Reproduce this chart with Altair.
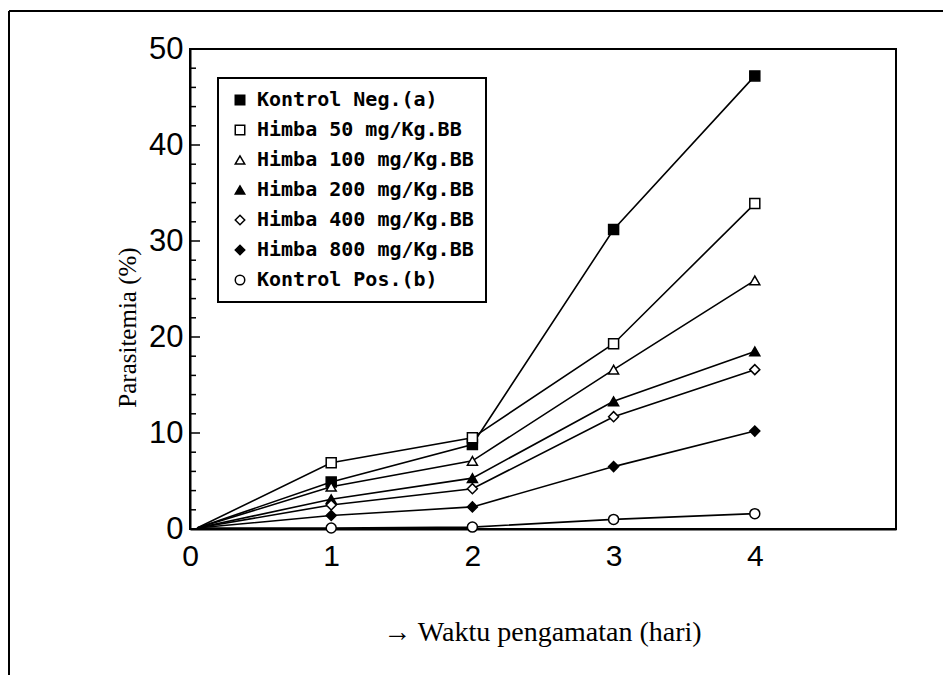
import altair as alt
import pandas as pd

# ---- data ----
days = [0.05, 1, 2, 3, 4]
series_names = [
    "Kontrol Neg.(a)",
    "Himba 50 mg/Kg.BB",
    "Himba 100 mg/Kg.BB",
    "Himba 200 mg/Kg.BB",
    "Himba 400 mg/Kg.BB",
    "Himba 800 mg/Kg.BB",
    "Kontrol Pos.(b)",
]
kontrol_neg = [0.1, 4.9, 8.8, 31.2, 47.2]
himba_50 = [0.1, 6.9, 9.5, 19.3, 33.9]
himba_100 = [0.1, 4.4, 7.1, 16.6, 25.9]
himba_200 = [0.1, 3.1, 5.3, 13.3, 18.5]
himba_400 = [0.1, 2.5, 4.2, 11.7, 16.6]
himba_800 = [0.1, 1.4, 2.3, 6.5, 10.2]
kontrol_pos = [0.1, 0.1, 0.2, 1.0, 1.6]

shapes = ["square", "square", "triangle-up", "triangle-up", "diamond", "diamond", "circle"]
fills = ["black", "white", "white", "black", "white", "black", "white"]
strokes = ["black"] * 7

x_ticks = [0, 1, 2, 3, 4]
y_ticks = [0, 10, 20, 30, 40, 50]
y_minor = [v for v in range(0, 51, 2) if v % 10 != 0]

all_series = [kontrol_neg, himba_50, himba_100, himba_200, himba_400, himba_800, kontrol_pos]
rows = []
for name, vals in zip(series_names, all_series):
    for d, v in zip(days, vals):
        rows.append({"day": d, "val": v, "series": name})
df = pd.DataFrame(rows)

W, H = 706, 480
PL, PT, PR, PB = 182, 41, 47, 146

xscale = alt.Scale(domain=[0, 5], nice=False)
yscale = alt.Scale(domain=[0, 50], nice=False)

x_enc = alt.X(
    "day:Q",
    scale=xscale,
    axis=alt.Axis(
        values=x_ticks,
        format="d",
        ticks=False,
        tickSize=0,
        labelFlush=False,
        labelPadding=12,
        labelFontSize=30,
        labelFont="Liberation Sans",
        labelColor="black",
        domainColor="black",
        domainWidth=2,
        grid=False,
        title="\u2192 Waktu pengamatan (hari)",
        titleFont="Liberation Serif",
        titleFontSize=28,
        titleFontWeight="normal",
        titleColor="black",
        titleX=352,
        titleY=103,
        titleBaseline="middle",
        titleAnchor="middle",
    ),
)
y_enc = alt.Y(
    "val:Q",
    scale=yscale,
    axis=alt.Axis(
        values=y_ticks,
        format="d",
        ticks=False,
        tickSize=0,
        labelFlush=False,
        labelPadding=7,
        labelFontSize=31,
        labelFont="Liberation Sans",
        labelColor="black",
        domainColor="black",
        domainWidth=2,
        grid=False,
        title="Parasitemia (%)",
        titleFont="Liberation Serif",
        titleFontSize=25,
        titleFontWeight="normal",
        titleColor="black",
        titleX=-63,
        titleY=278,
        titleAngle=-90,
        titleBaseline="middle",
        titleAlign="center",
    ),
)

base = alt.Chart(df)

lines = base.mark_line(color="black", strokeWidth=1.6).encode(
    x=x_enc, y=y_enc, detail="series:N"
)

leg = alt.Legend(title=None, orient="none", legendX=28, legendY=29)

points = base.transform_filter("datum.day >= 1").mark_point(
    filled=True, strokeWidth=1.5, size=100, opacity=1
).encode(
    x=alt.X("day:Q", scale=xscale),
    y=alt.Y("val:Q", scale=yscale),
    shape=alt.Shape(
        "series:N",
        sort=series_names,
        scale=alt.Scale(domain=series_names, range=shapes),
        legend=leg,
    ),
    fill=alt.Fill(
        "series:N",
        sort=series_names,
        scale=alt.Scale(domain=series_names, range=fills),
        legend=leg,
    ),
    stroke=alt.Stroke(
        "series:N",
        sort=series_names,
        scale=alt.Scale(domain=series_names, range=strokes),
        legend=leg,
    ),
)

major_df = pd.DataFrame({"v": y_ticks})
minor_df = pd.DataFrame({"v": y_minor})
major_ticks = alt.Chart(major_df).mark_rule(color="black", strokeWidth=1.5).encode(
    y=alt.Y("v:Q", scale=yscale), x=alt.value(0), x2=alt.value(10)
)
minor_ticks = alt.Chart(minor_df).mark_rule(color="black", strokeWidth=1.5).encode(
    y=alt.Y("v:Q", scale=yscale), x=alt.value(0), x2=alt.value(6)
)

frame_df = pd.DataFrame({"a": [0]})
frame_top = alt.Chart(frame_df).mark_rule(color="black", strokeWidth=2).encode(
    x=alt.value(-PL + 1), x2=alt.value(W + PR), y=alt.value(-PT + 3)
)
frame_left = alt.Chart(frame_df).mark_rule(color="black", strokeWidth=2).encode(
    x=alt.value(-PL + 1), y=alt.value(-PT + 3), y2=alt.value(H + PB)
)

chart = (
    alt.layer(lines, points, major_ticks, minor_ticks, frame_top, frame_left)
    .properties(
        width=W,
        height=H,
        autosize=alt.AutoSizeParams(type="none"),
        padding={"left": PL, "top": PT, "right": PR, "bottom": PB},
        background="white",
    )
    .configure_view(stroke="black", strokeWidth=2)
    .configure_legend(
        strokeColor="black",
        strokeWidth=2,
        padding=12,
        labelFont="DejaVu Sans Mono",
        labelFontWeight="bold",
        labelFontSize=20,
        labelColor="black",
        labelLimit=400,
        symbolSize=90,
        symbolStrokeWidth=1.5,
        rowPadding=10,
        labelOffset=7,
    )
)

chart.save("out.html", embed_options={"renderer": "svg", "actions": False})
